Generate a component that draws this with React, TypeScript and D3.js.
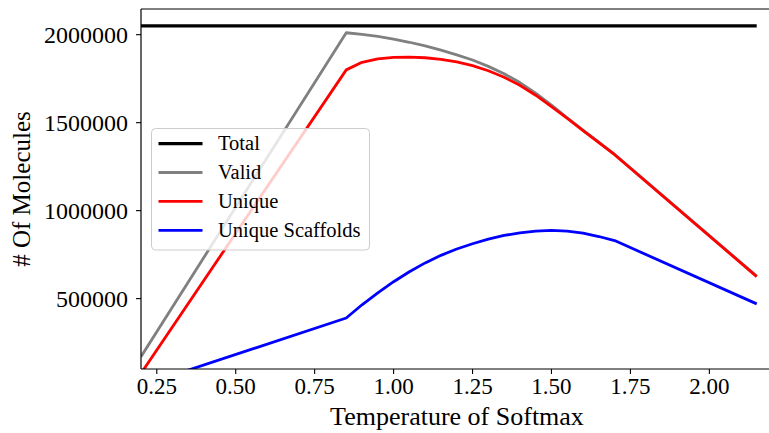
import React from "react";
import * as d3 from "d3";

const temps = [0.2, 0.85, 0.9, 0.95, 1.0, 1.05, 1.1, 1.15, 1.2, 1.25, 1.3, 1.35, 1.4, 1.45, 1.5, 1.55, 1.6, 1.65, 1.7, 2.15];
const totalVals = temps.map(() => 2050000);
const validVals = [170000, 2011000, 2002000, 1990000, 1975000, 1957000, 1936000, 1912000, 1885000, 1856000, 1820000, 1778000, 1728000, 1668000, 1600000, 1528000, 1458000, 1389000, 1320000, 628000];
const uniqueVals = [75000, 1800000, 1843000, 1862000, 1871000, 1873000, 1869000, 1860000, 1845000, 1824000, 1795000, 1758000, 1712000, 1656000, 1591000, 1524000, 1455000, 1387000, 1318000, 625000];
const scaffoldVals = [5000, 390000, 465000, 533000, 596000, 653000, 703000, 746000, 782000, 812000, 838000, 859000, 874000, 884000, 888000, 884000, 872000, 853000, 830000, 470000];

const seriesNames = ["Total", "Valid", "Unique", "Unique Scaffolds"];
const seriesColors = ["#000000", "#808080", "#ff0000", "#0000ff"];
const seriesWidths = [3.2, 2.8, 2.8, 2.8];
const seriesData = [totalVals, validVals, uniqueVals, scaffoldVals];

const xTicks = [0.25, 0.5, 0.75, 1.0, 1.25, 1.5, 1.75, 2.0];
const yTicks = [500000, 1000000, 1500000, 2000000];

const FONT = "'Liberation Serif', 'DejaVu Serif', serif";

export default function App() {
  const W = 769, H = 433;
  const x = d3.scaleLinear().domain([0.2, 2.2475]).range([141, 787.5]);
  const y = d3.scaleLinear().domain([100000, 2146000]).range([369, 9]);
  const line = d3.line<[number, number]>().x(d => x(d[0])).y(d => y(d[1]));
  const left = 141, top = 9, bottom = 369, right = W;

  return (
    <svg width={W} height={H} style={{ position: "absolute", left: 0, top: 0, background: "#fff", display: "block" }} fontFamily={FONT}>
      <defs>
        <clipPath id="plotclip">
          <rect x={left} y={top} width={right - left} height={bottom - top} />
        </clipPath>
      </defs>
      <rect x={0} y={0} width={W} height={H} fill="#fff" />
      <g clipPath="url(#plotclip)">
        {seriesData.map((vals, i) => (
          <path key={i} d={line(temps.map((t, j) => [t, vals[j]] as [number, number])) || ""}
            fill="none" stroke={seriesColors[i]} strokeWidth={seriesWidths[i]} strokeLinejoin="round" />
        ))}
      </g>
      {/* spines */}
      <line x1={left} x2={left} y1={top} y2={bottom} stroke="#000" strokeWidth={1.2} />
      <line x1={left} x2={right} y1={bottom} y2={bottom} stroke="#000" strokeWidth={1.2} />
      <line x1={left} x2={right} y1={top} y2={top} stroke="#000" strokeWidth={1.2} />
      {/* x ticks */}
      {xTicks.map(t => (
        <g key={t}>
          <line x1={x(t)} x2={x(t)} y1={bottom} y2={bottom + 5} stroke="#000" strokeWidth={1.1} />
          <text x={x(t)} y={bottom + 25} fontSize={23} textAnchor="middle">{d3.format(".2f")(t)}</text>
        </g>
      ))}
      {/* y ticks */}
      {yTicks.map(t => (
        <g key={t}>
          <line x1={left} x2={left - 5} y1={y(t)} y2={y(t)} stroke="#000" strokeWidth={1.1} />
          <text x={left - 13} y={y(t)} dy="0.34em" fontSize={24} textAnchor="end">{String(t)}</text>
        </g>
      ))}
      <text x={457} y={425} fontSize={26} textAnchor="middle">Temperature of Softmax</text>
      <text transform={`translate(30, ${(top + bottom) / 2}) rotate(-90)`} fontSize={25} textAnchor="middle">
        # Of Molecules
      </text>
      {/* legend */}
      <g>
        <rect x={151.5} y={128.5} width={218} height={121.5} rx={4} fill="#fff" fillOpacity={0.8} stroke="#cccccc" strokeWidth={1} />
        {seriesNames.map((n, i) => (
          <g key={n}>
            <line x1={158.5} x2={202.5} y1={143.6 + i * 28.9} y2={143.6 + i * 28.9} stroke={seriesColors[i]} strokeWidth={seriesWidths[i]} />
            <text x={218} y={143.6 + i * 28.9} dy="0.33em" fontSize={20.5}>{n}</text>
          </g>
        ))}
      </g>
    </svg>
  );
}
